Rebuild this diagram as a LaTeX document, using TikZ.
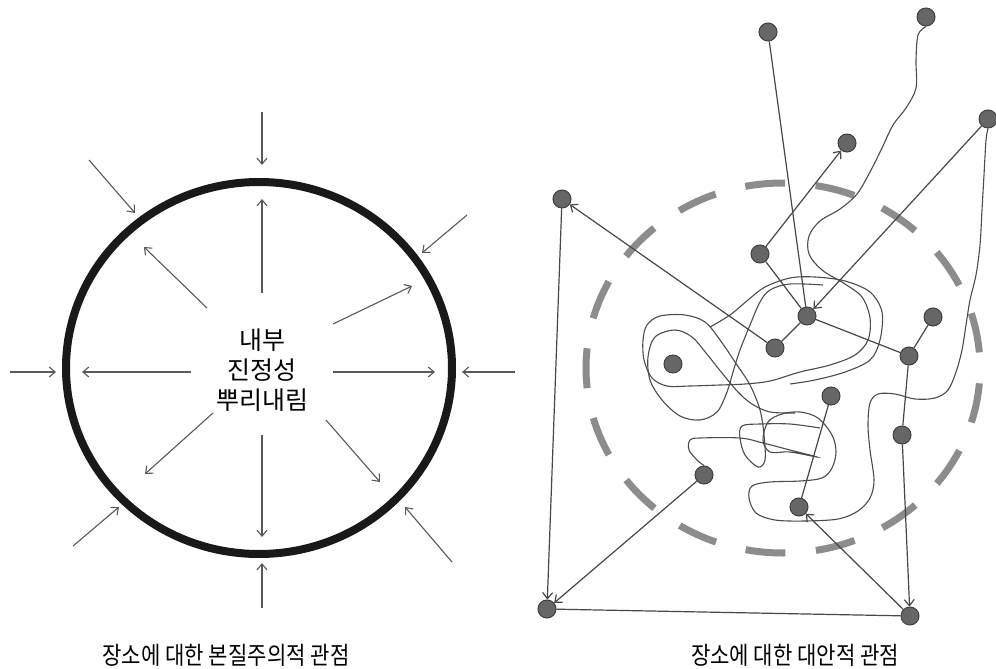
\documentclass[tikz,border=0pt]{standalone}
\usepackage{fontspec}
\usepackage{graphicx}
\newfontfamily\kr{Noto Sans CJK KR}
\usetikzlibrary{arrows.meta}
\begin{document}
\begin{tikzpicture}[x=1pt,y=-1pt,
  larrow/.style={draw=black!65,line width=1.1pt,-{Straight Barb[length=6pt,width=10pt]}},
  rline/.style={draw=black!72,line width=1.2pt},
  rarrow/.style={rline,-{Straight Barb[length=6pt,width=10pt]}},
  squig/.style={draw=black!70,line width=1.1pt,smooth,tension=0.55},
  dot/.style={circle,minimum size=18pt,inner sep=0pt,fill=black!60,draw=black!75,line width=1pt},
  ring/.style={draw=black!90,line width=8pt},
  dring/.style={draw=black!45,line width=7pt,dash pattern=on 40pt off 30.6pt,dash phase=55.3pt},
  capt/.style={inner sep=0pt}]
\fill[white] (0,0) rectangle (996,669);
\useasboundingbox (0,0) rectangle (996,669);

% ---------------- left diagram ----------------
\draw[ring] (259,368) ellipse [x radius=193, y radius=186];
\node[font=\kr\fontsize{25}{30}\selectfont,align=center] (core) at (262,370) {내부\\진정성\\뿌리내림};

\foreach \n/\ax/\ay/\bx/\by in {
  ot/262/112/262/165, oul/89/160/135/213, our/467/215/422/253, ol/10/372/56/372,
  or/515/372/462/372, oll/73/546/119/507, olr/452/562/405/507, ob/262/608/262/563,
  iu/262/293/262/199, iul/207/308/144/247, iur/333/324/412/286, il/191/372/82/372,
  ir/333/372/435/372, ill/213/413/145/474, ilr/326/420/380/482, id/262/435/262/537}{
  \coordinate (\n a) at (\ax,\ay);
  \coordinate (\n b) at (\bx,\by);
  \draw[larrow] (\n a) -- (\n b);
}

% ---------------- right diagram ----------------
\draw[dring] (783,368) ellipse [x radius=197, y radius=185];

\node[dot] (n1) at (768,32) {};
\node[dot] (n2) at (926,17) {};
\node[dot] (n3) at (988,119) {};
\node[dot] (n4) at (847,143) {};
\node[dot] (n5) at (562,199) {};
\node[dot] (n6) at (760,254) {};
\node[dot] (n7) at (807,316) {};
\node[dot] (n8) at (933,317) {};
\node[dot] (n9) at (775,348) {};
\node[dot] (n10) at (909,356) {};
\node[dot] (n11) at (673,364) {};
\node[dot] (n12) at (831,396) {};
\node[dot] (n13) at (902,435) {};
\node[dot] (n14) at (704,475) {};
\node[dot] (n15) at (799,507) {};
\node[dot] (n16) at (547,609) {};
\node[dot] (n17) at (910,616) {};

% squiggly paths
\draw[squig] plot coordinates {(n2.south) (918,35) (916,60) (916,88) (906,108) (893,125) (882,148) (870,172) (857,194) (840,209) (820,221) (809,236) (809,254) (822,270) (845,284) (862,297) (870,318) (868,340) (855,355) (830,365) (800,372) (770,381) (745,384) (720,385) (690,386) (667,386) (652,378) (644,360) (643,340) (647,325) (660,316) (685,315) (705,322) (720,340) (735,362) (750,385) (760,410) (764,435) (765,460) (758,467) (745,455) (740,438) (742,426) (760,424) (790,424) (820,428)};
\draw[squig] plot coordinates {(823,285) (790,284) (770,290) (760,302) (750,325) (740,350) (733,372) (727,392) (717,412) (700,420) (680,416) (662,400) (650,380) (648,357) (655,337) (675,330) (692,337) (706,353) (722,373) (738,392) (752,404) (770,412) (795,413)};
\draw[squig] plot coordinates {(n3.south) (986,140) (984,175) (982,210) (980,245) (976,275) (970,300) (966,325) (962,350) (956,372) (948,390) (935,398) (915,399) (895,394) (878,394) (870,403) (868,425) (870,450) (874,480) (870,498) (858,511) (838,519) (805,521) (775,520) (756,513) (749,498) (752,486) (770,482) (800,481) (822,478) (832,468) (836,452) (832,435) (818,418) (800,412) (782,414) (768,422) (763,440) (770,452) (790,452) (817,457) (790,450) (763,443) (740,438) (700,438) (690,440) (689,450) (697,460) (n14.north)};
\draw[squig] plot coordinates {(710,327) (730,315) (748,300) (765,287) (790,278) (815,277) (845,281) (870,292) (882,312) (880,340) (870,360) (845,372) (815,380) (790,384)};

% connectors
\draw[rline] (n1) -- (n7);
\draw[rarrow] (n3) -- (n7);
\draw[rarrow] (n6) -- (n4);
\draw[rline] (n6) -- (n7);
\draw[rarrow] (n9) -- (n5);
\draw[rline] (n9) -- (n7);
\draw[rline] (n7) -- (n10);
\draw[rline] (n10) -- (n8);
\draw[rline] (n10) -- (n13);
\draw[rarrow] (n13) -- (n17);
\draw[rline] (n12) -- (n15);
\draw[rarrow] (n5) -- (n16);
\draw[rarrow] (n14) -- (n16);
\draw[rline] (n16) -- (n17);
\draw[rarrow] (n17) -- (n15);

% captions
\node[capt] (cap1) at (226,655) {\scalebox{0.86}[1]{\kr\fontsize{24.5}{28}\selectfont 장소에 대한 본질주의적 관점}};
\node[capt] (cap2) at (795,655) {\scalebox{0.86}[1]{\kr\fontsize{24.5}{28}\selectfont 장소에 대한 대안적 관점}};
\end{tikzpicture}
\end{document}
